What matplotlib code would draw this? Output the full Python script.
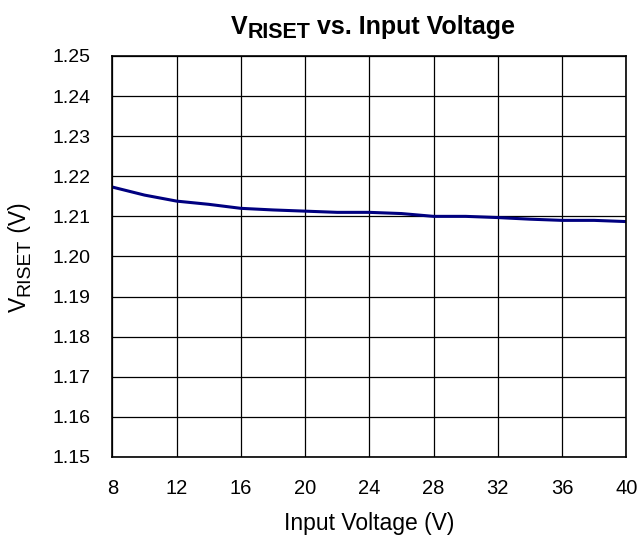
import matplotlib
matplotlib.use('Agg')
import matplotlib.pyplot as plt
import numpy as np

plt.rcParams['font.family'] = ['Liberation Sans', 'DejaVu Sans']

vin = [8, 10, 12, 14, 16, 18, 20, 22, 24, 26, 28, 30, 32, 34, 36, 38, 40]
vriset = [1.2173, 1.2153, 1.2138, 1.2130, 1.2120, 1.2116, 1.2113, 1.2110, 1.2110,
          1.2107, 1.2100, 1.2100, 1.2097, 1.2093, 1.2090, 1.2090, 1.2087]

xticks = np.arange(8, 41, 4)
yticks = np.arange(1.15, 1.2501, 0.01)

W, H = 639, 538
fig = plt.figure(figsize=(W / 100, H / 100), dpi=100)
ax = fig.add_axes([0.176, 0.1506, 0.804, 0.7454])

ax.plot(vin, vriset, color='#000080', linewidth=2.2)

ax.set_xlim(8, 40)
ax.set_ylim(1.15, 1.25)
ax.set_xticks(xticks)
ax.set_yticks(yticks)
ax.set_yticklabels(['%.2f' % v for v in yticks])
ax.grid(True, color='black', linewidth=0.9)
ax.tick_params(axis='both', length=0)
ax.tick_params(axis='x', pad=16, labelsize=14.5)
ax.tick_params(axis='y', pad=16, labelsize=14)
for s in ax.spines.values():
    s.set_linewidth(1.2)
    s.set_color('black')

ax.set_xlabel('Input Voltage (V)', fontsize=16.5, labelpad=10)

renderer = fig.canvas.get_renderer()


def text_run(parts, start, rotated, **kw):
    # parts: (string, fontsize, shift px below baseline); start: baseline point in px
    texts = []
    for s, size, shift in parts:
        t = fig.text(0, 0, s, fontsize=size, ha='left', va='baseline',
                     rotation=90 if rotated else 0, rotation_mode='anchor', **kw)
        texts.append((t, shift))
    pos = 0.0
    for t, shift in texts:
        if rotated:
            t.set_position(((start[0] + shift) / W, (start[1] + pos) / H))
            pos += t.get_window_extent(renderer).height
        else:
            t.set_position(((start[0] + pos) / W, (start[1] - shift) / H))
            pos += t.get_window_extent(renderer).width
    return texts, pos


# title: V_RISET vs. Input Voltage, with a large subscript
title_parts = [('V', 18, 0), ('RISET', 15.5, 4.5), (' vs. Input Voltage', 18, 0)]
_, tw = text_run(title_parts, (0, 0), False, fontweight='bold')
for t in fig.texts[:]:
    t.remove()
text_run(title_parts, (373 - tw / 2, H - 34), False, fontweight='bold')

# y label: V_RISET (V)
ylab_parts = [('V', 16.5, 0), ('RISET', 14, 3.5), (' (V)', 16.5, 0)]
n0 = len(fig.texts)
_, yl = text_run(ylab_parts, (0, 0), True)
for t in fig.texts[n0:]:
    t.remove()
text_run(ylab_parts, (26, H - 257 - yl / 2), True)

plt.savefig('out.png', dpi=100)
